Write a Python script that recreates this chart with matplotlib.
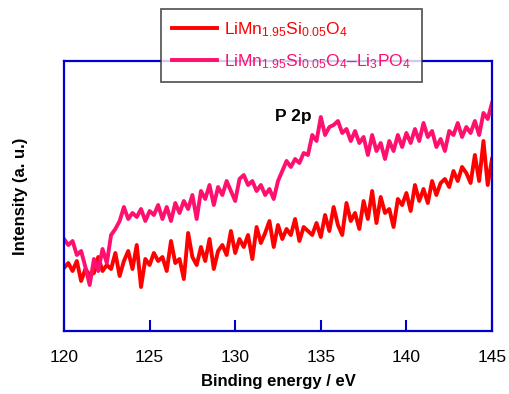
import numpy as np
import matplotlib
matplotlib.use('Agg')
import matplotlib.pyplot as plt

plt.rcParams['font.family'] = ['Liberation Sans', 'DejaVu Sans']
plt.rcParams['mathtext.fontset'] = 'custom'
plt.rcParams['mathtext.rm'] = 'Liberation Sans'
plt.rcParams['mathtext.it'] = 'Liberation Sans:italic'
plt.rcParams['mathtext.bf'] = 'Liberation Sans:bold'

# binding energy, eV (0.25 eV step)
energy = np.arange(120, 145.001, 0.25)

# LiMn1.95Si0.05O4 (arbitrary units)
pristine = [63, 68, 60, 70, 50, 62, 56, 58, 74, 60, 66, 62, 78, 55, 70, 80, 62, 86, 44, 72,
            66, 78, 70, 74, 60, 90, 68, 72, 52, 98, 74, 66, 84, 70, 92, 62, 80, 86, 76, 100,
            78, 92, 84, 96, 72, 104, 88, 98, 110, 84, 106, 92, 102, 96, 112, 90, 104, 100, 96, 108,
            94, 116, 100, 124, 106, 96, 128, 110, 118, 102, 130, 112, 140, 108, 134, 118, 122, 104, 132, 126,
            138, 120, 146, 130, 142, 128, 150, 136, 148, 152, 144, 160, 150, 164, 158, 148, 176, 150, 190, 146,
            172]

# LiMn1.95Si0.05O4-Li3PO4 (arbitrary units)
coated = [92, 86, 90, 76, 80, 64, 46, 72, 60, 82, 68, 96, 102, 110, 124, 112, 118, 114, 122, 110,
          120, 116, 126, 112, 124, 110, 128, 118, 130, 122, 136, 112, 140, 132, 146, 126, 144, 136, 150, 140,
          130, 152, 156, 146, 150, 140, 146, 136, 142, 132, 150, 160, 170, 164, 172, 168, 178, 176, 196, 190,
          214, 196, 204, 206, 210, 198, 202, 190, 200, 188, 194, 176, 196, 180, 188, 172, 190, 180, 196, 184,
          198, 188, 202, 190, 208, 194, 200, 184, 192, 180, 200, 196, 208, 194, 204, 198, 210, 196, 218, 212,
          228]

labels = [r'LiMn$_{1.95}$Si$_{0.05}$O$_4$',
          r'LiMn$_{1.95}$Si$_{0.05}$O$_4$–Li$_3$PO$_4$']
colors = ['#ff0000', '#ff0f6e']

fig = plt.figure(figsize=(5.09, 3.94), dpi=100)
ax = fig.add_axes([64/509, 1-331/394, 428/509, 270/394])

ax.plot(energy, pristine, color=colors[0], lw=2.8, label=labels[0])
ax.plot(energy, coated, color=colors[1], lw=2.8, label=labels[1])

ax.text(132.3, 215, 'P 2p', fontsize=12.5, fontweight='bold', va='center')

ax.set_xlim(120, 145)
ax.set_ylim(0, 270)
ax.set_xticks([120, 125, 130, 135, 140, 145])
ax.set_yticks([])
ax.tick_params(axis='x', direction='in', length=8, width=1.5, color='#0000cc',
               labelsize=12.5, pad=14)
for s in ax.spines.values():
    s.set_color('#0000cc')
    s.set_linewidth(1.6)

ax.set_xlabel('Binding energy / eV', fontsize=12, fontweight='bold', labelpad=6)
ax.set_ylabel('Intensity (a. u.)', fontsize=12, fontweight='bold', labelpad=26)

leg = fig.legend(loc='upper left', bbox_to_anchor=(161/509, 1-9/394), fontsize=12.5,
                 handlelength=2.6, handletextpad=0.4, labelspacing=0.75, borderpad=0.65,
                 borderaxespad=0, frameon=True, fancybox=False, edgecolor='#333333',
                 labelcolor='linecolor')
leg.get_frame().set_linewidth(1.3)

fig.savefig('out.png', dpi=100)
